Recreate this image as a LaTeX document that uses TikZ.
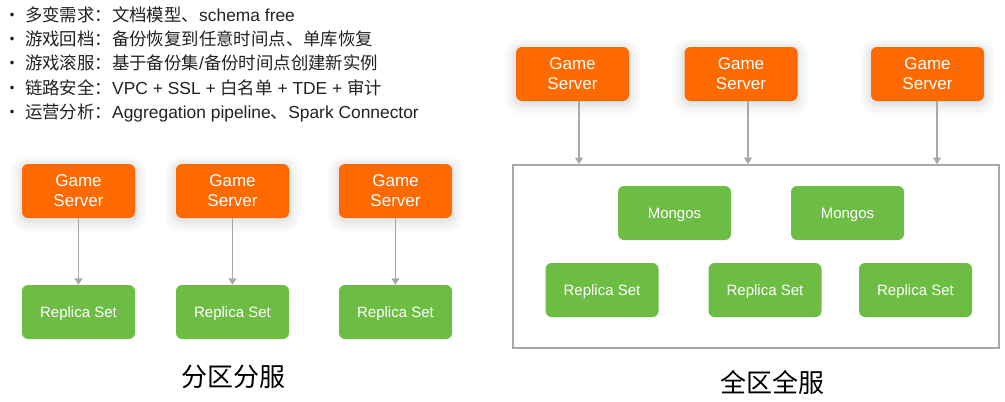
\documentclass[tikz,border=0pt]{standalone}
\usepackage{fontspec}
\setmainfont{Liberation Sans}
\newfontfamily\cjk{Noto Sans CJK SC}
\usetikzlibrary{arrows.meta}
\definecolor{gsorange}{HTML}{FF6A00}
\definecolor{rsgreen}{HTML}{6DBD45}
\definecolor{lgray}{HTML}{A8A8A8}
\definecolor{txt}{HTML}{222222}
\tikzset{
  softshadow/.style={
    preaction={draw=black, draw opacity=0.018, line width=22pt, transform canvas={yshift=-3pt}},
    preaction={draw=black, draw opacity=0.02, line width=16pt, transform canvas={yshift=-3pt}},
    preaction={draw=black, draw opacity=0.025, line width=10pt, transform canvas={yshift=-2pt}},
    preaction={draw=black, draw opacity=0.03, line width=5pt, transform canvas={yshift=-2pt}}},
  gsbox/.style={rectangle, rounded corners=6pt, fill=gsorange, text=white,
    minimum width=113pt, minimum height=54pt, inner sep=0pt, align=center,
    font=\fontsize{17}{20}\selectfont, softshadow},
  rsbox/.style={rectangle, rounded corners=6pt, fill=rsgreen, text=white,
    minimum width=113pt, minimum height=54pt, inner sep=0pt, align=center,
    text depth=0pt, font=\fontsize{15}{18}\selectfont},
  conn/.style={draw=lgray, line width=1.8pt, -{Triangle[width=8pt,length=6.5pt]}},
  frame/.style={draw=lgray, line width=1.8pt, rectangle, inner sep=0pt,
    minimum width=486pt, minimum height=183pt},
  listtxt/.style={anchor=base west, inner sep=0pt, text=txt, font=\fontsize{17.4}{20}\selectfont},
  bullet/.style={anchor=base, inner sep=0pt, text=txt, font=\fontsize{17}{20}\selectfont\cjk},
  caption/.style={inner sep=0pt, text=black, font=\fontsize{26}{30}\selectfont\cjk}
}
\begin{document}
\begin{tikzpicture}[x=1pt,y=-1pt]
\useasboundingbox[fill=white] (0,0) rectangle (1005,402);

% feature list
\node[bullet] (b1) at (12,21) {・};
\node[bullet] (b2) at (12,45.5) {・};
\node[bullet] (b3) at (12,69.5) {・};
\node[bullet] (b4) at (12,94) {・};
\node[bullet] (b5) at (12,118.5) {・};
\node[listtxt] (l1) at (25,21) {{\cjk 多变需求：文档模型、}schema free};
\node[listtxt] (l2) at (25,45.5) {{\cjk 游戏回档：备份恢复到任意时间点、单库恢复}};
\node[listtxt] (l3) at (25,69.5) {{\cjk 游戏滚服：基于备份集}/{\cjk 备份时间点创建新实例}};
\node[listtxt] (l4) at (25,94) {{\cjk 链路安全：}VPC + SSL + {\cjk 白名单} + TDE + {\cjk 审计}};
\node[listtxt] (l5) at (25,118.5) {{\cjk 运营分析：}Aggregation pipeline{\cjk 、}Spark Connector};

% left panel
\node[gsbox] (ga) at (78.5,191) {Game\\Server};
\node[gsbox] (gb) at (232.5,191) {Game\\Server};
\node[gsbox] (gc) at (395.5,191) {Game\\Server};
\node[rsbox] (ra) at (78.5,312) {Replica Set};
\node[rsbox] (rb) at (232.5,312) {Replica Set};
\node[rsbox] (rc) at (395.5,312) {Replica Set};
\draw[conn] (ga.south) -- (ra.north);
\draw[conn] (gb.south) -- (rb.north);
\draw[conn] (gc.south) -- (rc.north);
\node[caption] (capL) at (233,377) {分区分服};

% right panel
\node[frame] (fr) at (756,256.5) {};
\node[gsbox] (gd) at (572.5,74) {Game\\Server};
\node[gsbox] (ge) at (741,74) {Game\\Server};
\node[gsbox] (gf) at (927.5,74) {Game\\Server};
\coordinate (td) at ([xshift=6.5pt]gd.south);
\coordinate (te) at ([xshift=7pt]ge.south);
\coordinate (tf) at ([xshift=9.5pt]gf.south);
\draw[conn] (td) -- (td |- fr.north);
\draw[conn] (te) -- (te |- fr.north);
\draw[conn] (tf) -- (tf |- fr.north);
\node[rsbox] (ma) at (674.5,213) {Mongos};
\node[rsbox] (mb) at (847.5,213) {Mongos};
\node[rsbox] (rd) at (602,290) {Replica Set};
\node[rsbox] (re) at (765,290) {Replica Set};
\node[rsbox] (rf) at (915.5,290) {Replica Set};
\node[caption] (capR) at (772,382) {全区全服};
\end{tikzpicture}
\end{document}
